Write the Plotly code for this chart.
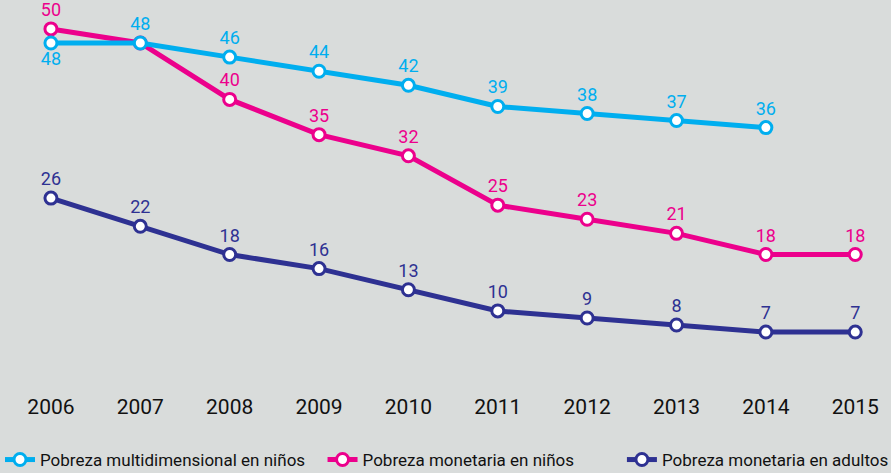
import plotly.graph_objects as go

years = [2006, 2007, 2008, 2009, 2010, 2011, 2012, 2013, 2014, 2015]
multidim_ninos = [48, 48, 46, 44, 42, 39, 38, 37, 36, None]
monetaria_ninos = [50, 48, 40, 35, 32, 25, 23, 21, 18, 18]
monetaria_adultos = [26, 22, 18, 16, 13, 10, 9, 8, 7, 7]

names = ["Pobreza multidimensional en niños", "Pobreza monetaria en niños", "Pobreza monetaria en adultos"]
colors = ["#00aeef", "#ec008c", "#2e3192"]

FONT = "Roboto, sans-serif"

def labels(vals, skip=()):
    return ["" if (v is None or i in skip) else str(v) for i, v in enumerate(vals)]

fig = go.Figure()

series = [
    (monetaria_adultos, names[2], colors[2], labels(monetaria_adultos), ["top center"] * 10, "legend3"),
    (monetaria_ninos, names[1], colors[1], labels(monetaria_ninos, skip=(1,)), ["top center"] * 10, "legend2"),
    (multidim_ninos, names[0], colors[0], labels(multidim_ninos), ["bottom center"] + ["top center"] * 9, "legend"),
]

for vals, name, col, txt, pos, leg in series:
    fig.add_trace(go.Scatter(
        x=years, y=vals, name=name, mode="lines+markers+text",
        line=dict(color=col, width=5),
        marker=dict(size=12, color="white", line=dict(color=col, width=3)),
        text=txt, textposition=pos,
        textfont=dict(color=col, size=18, family=FONT),
        cliponaxis=False, legend=leg,
    ))

legfont = dict(size=17, color="#111111", family=FONT)
legy = 1 - 460 / 473
common = dict(orientation="h", xanchor="left", y=legy, yanchor="middle", yref="container",
              xref="container", font=legfont, itemwidth=30, bgcolor="rgba(0,0,0,0)")

fig.update_layout(
    width=891, height=473,
    paper_bgcolor="#d9dcdb", plot_bgcolor="#d9dcdb",
    margin=dict(l=0, r=0, t=0, b=81, autoexpand=False),
    font=dict(family=FONT, color="#111111"),
    showlegend=True,
    legend=dict(x=-0.008, **common),
    legend2=dict(x=0.362, **common),
    legend3=dict(x=0.698, **common),
    xaxis=dict(range=[2005.43, 2015.40], tickmode="array", tickvals=years,
               ticktext=[str(y) for y in years], showgrid=False, zeroline=False,
               showline=False, automargin=False,
               tickfont=dict(size=21, color="#111111", family=FONT)),
    yaxis=dict(range=[-1.5, 54.1], visible=False, showgrid=False, zeroline=False),
)

fig.write_html("out.html", config={"displayModeBar": False},
               post_script="document.body.style.margin='0';")
